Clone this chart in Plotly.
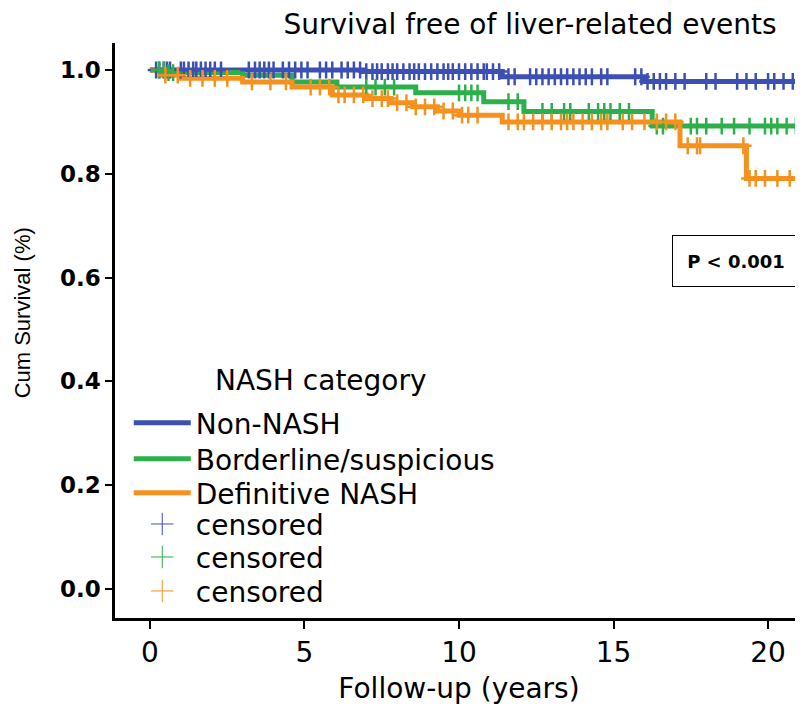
import numpy as np
import plotly.graph_objects as go

# ---- data ----
groups = ["Non-NASH", "Borderline/suspicious", "Definitive NASH"]
colors = ["#3c50b4", "#2daf4b", "#f5911e"]

# Kaplan-Meier step times (years) and cumulative survival after each step
nonnash_t = [0, 6.9, 11.4, 16.0, 21.3]
nonnash_s = [1.0, 0.997, 0.987, 0.978, 0.978]

border_t = [0, 0.5, 3.0, 4.6, 6.05, 8.6, 10.8, 12.1, 16.25, 21.3]
border_s = [1.0, 0.995, 0.990, 0.977, 0.967, 0.956, 0.939, 0.920, 0.892, 0.892]

defin_t = [0, 0.4, 1.0, 3.0, 4.6, 5.9, 7.0, 7.8, 8.5, 9.3, 10.0, 11.4, 17.15, 19.3, 21.3]
defin_s = [1.0, 0.990, 0.984, 0.977, 0.967, 0.952, 0.945, 0.937, 0.929, 0.921, 0.913,
           0.900, 0.854, 0.791, 0.791]

# censoring times (years)
nonnash_c = [0.2, 0.3, 0.45, 0.55, 0.65, 1.0, 1.1, 1.25, 1.4, 1.5, 1.65, 1.8, 1.95, 2.1, 2.3,
             3.2, 3.4, 3.55, 3.7, 3.85, 4.0, 4.3, 4.5, 4.7, 4.9, 5.1, 5.5, 5.7, 5.9, 6.2, 6.4,
             6.6, 6.8, 7.0, 7.2, 7.35, 7.5, 7.7, 7.85, 8.0, 8.2, 8.4, 8.55, 8.7, 8.9, 9.1, 9.3,
             9.5, 9.65, 9.8, 10.0, 10.2, 10.4, 10.6, 10.8, 10.9, 11.1, 11.3, 11.6, 11.8, 12.3,
             12.5, 12.7, 12.9, 13.1, 13.3, 13.5, 13.7, 13.9, 14.1, 14.3, 14.6, 14.8, 15.7, 15.9,
             16.1, 16.3, 16.5, 16.7, 17.0, 17.3, 18.0, 18.3, 19.0, 19.3, 19.6, 20.0, 20.2, 20.5,
             20.8]
border_c = [0.3, 0.45, 0.6, 0.75, 7.0, 7.3, 7.6, 7.9, 10.0, 10.2, 10.4, 10.6, 11.6, 11.9,
            12.7, 13.0, 13.4, 13.6, 14.2, 14.5, 14.7, 14.9, 15.2, 15.5, 16.4, 16.6, 17.5,
            17.7, 18.0, 18.5, 18.9, 19.4, 19.9, 20.1, 20.3, 20.6, 20.9]
defin_c = [0.5, 0.9, 1.3, 1.7, 2.1, 2.5, 3.3, 3.9, 4.4, 5.2, 5.5, 5.8, 6.1, 6.3, 6.6, 6.9,
           7.2, 7.5, 7.7, 8.0, 8.3, 8.6, 8.9, 9.2, 9.5, 9.8, 10.1, 10.3, 10.6, 11.6, 11.9,
           12.1, 12.4, 12.7, 13.0, 13.3, 13.5, 13.7, 14.0, 14.3, 14.6, 14.8, 15.3, 15.6,
           16.0, 16.4, 16.7, 17.0, 17.4, 17.7, 17.8, 19.2, 19.4, 19.6, 19.9, 20.3, 20.7]

steps_t = [nonnash_t, border_t, defin_t]
steps_s = [nonnash_s, border_s, defin_s]
cens = [nonnash_c, border_c, defin_c]

x_ticks = [0, 5, 10, 15, 20]
y_ticks = [0.0, 0.2, 0.4, 0.6, 0.8, 1.0]

title_text = "Survival free of liver-related events"
x_title = "Follow-up (years)"
y_title = "Cum Survival (%)"
legend_title = "NASH category"
p_text = "P < 0.001"

FONT = "DejaVu Sans"
LEG_FS = 28

# one single-entry legend per row, so the row spacing can follow the reference
legend_names = ["legend", "legend2", "legend3", "legend4", "legend5", "legend6"]
legend_rows_y = [0.3391, 0.2765, 0.2174, 0.1630, 0.1056, 0.0465]

fig = go.Figure()

# step curves
for i, g in enumerate(groups):
    fig.add_trace(go.Scatter(
        x=steps_t[i], y=steps_s[i], mode="lines", name=g,
        line=dict(color=colors[i], width=5, shape="hv"),
        showlegend=True, legend=legend_names[i], hoverinfo="skip"))

# censored marks (survival value of the curve at each censoring time)
for i, g in enumerate(groups):
    t = np.array(steps_t[i]); s = np.array(steps_s[i])
    c = np.array(cens[i])
    idx = np.searchsorted(t, c, side="right") - 1
    fig.add_trace(go.Scatter(
        x=c, y=s[idx], mode="markers", name="censored",
        marker=dict(symbol="cross-thin", size=12, color=colors[i],
                    line=dict(color=colors[i], width=2.5)),
        showlegend=False, hoverinfo="skip"))

# legend entries for censored marks (thin crosses)
for i in range(3):
    fig.add_trace(go.Scatter(
        x=[None], y=[None], mode="markers", name="censored",
        marker=dict(symbol="cross-thin", size=16, color=colors[i],
                    line=dict(color=colors[i], width=1)),
        showlegend=True, legend=legend_names[3 + i]))

legend_layout = {}
for name, yy in zip(legend_names, legend_rows_y):
    legend_layout[name] = dict(
        x=0.02, y=yy, xanchor="left", yanchor="middle",
        bgcolor="rgba(0,0,0,0)", borderwidth=0,
        font=dict(family=FONT, size=LEG_FS, color="black"),
        itemwidth=57)

# legend heading
fig.add_annotation(
    x=0.2994, y=0.4139, xref="paper", yref="paper", text=legend_title,
    showarrow=False, xanchor="center", yanchor="middle",
    font=dict(family=FONT, size=LEG_FS, color="black"))

fig.add_annotation(
    x=18.96, y=0.632, xref="x", yref="y", text="<b>" + p_text + "</b>",
    showarrow=False, font=dict(family=FONT, size=18, color="black"),
    bordercolor="black", borderwidth=1, borderpad=0, bgcolor="white",
    width=126, height=50)

fig.add_annotation(
    x=-0.135, y=0.53, xref="paper", yref="paper", text=y_title, textangle=-90,
    showarrow=False, xanchor="center", yanchor="middle",
    font=dict(family="Liberation Sans", size=22, color="black"))

fig.update_layout(
    width=795, height=698, autosize=False,
    margin=dict(l=107, r=0, t=35, b=88),
    paper_bgcolor="white", plot_bgcolor="white",
    font=dict(family=FONT, color="black"),
    title=dict(text=title_text, x=(530 - 8) / 795, xref="container", xanchor="center",
               y=1 - 16 / 698, yref="container", yanchor="middle",
               font=dict(family=FONT, size=28, color="black")),
    xaxis=dict(
        range=[-1.13, 21.13], tickvals=x_ticks, ticktext=[str(v) for v in x_ticks],
        showgrid=False, zeroline=False, showline=True, linecolor="black", linewidth=2.5,
        ticks="outside", ticklen=8, tickwidth=2, tickcolor="black",
        tickfont=dict(family=FONT, size=28, color="black"),
        title=dict(text=x_title, font=dict(family=FONT, size=28, color="black"),
                   standoff=11)),
    yaxis=dict(
        range=[-0.056, 1.052], tickvals=y_ticks, ticktext=[f"{v:.1f}" for v in y_ticks],
        showgrid=False, zeroline=False, showline=True, linecolor="black", linewidth=2.5,
        ticks="outside", ticklen=7, tickwidth=2, tickcolor="black",
        tickfont=dict(family=FONT, size=23, color="black", weight="bold")),
    **legend_layout,
)

fig.write_html("out.html")
